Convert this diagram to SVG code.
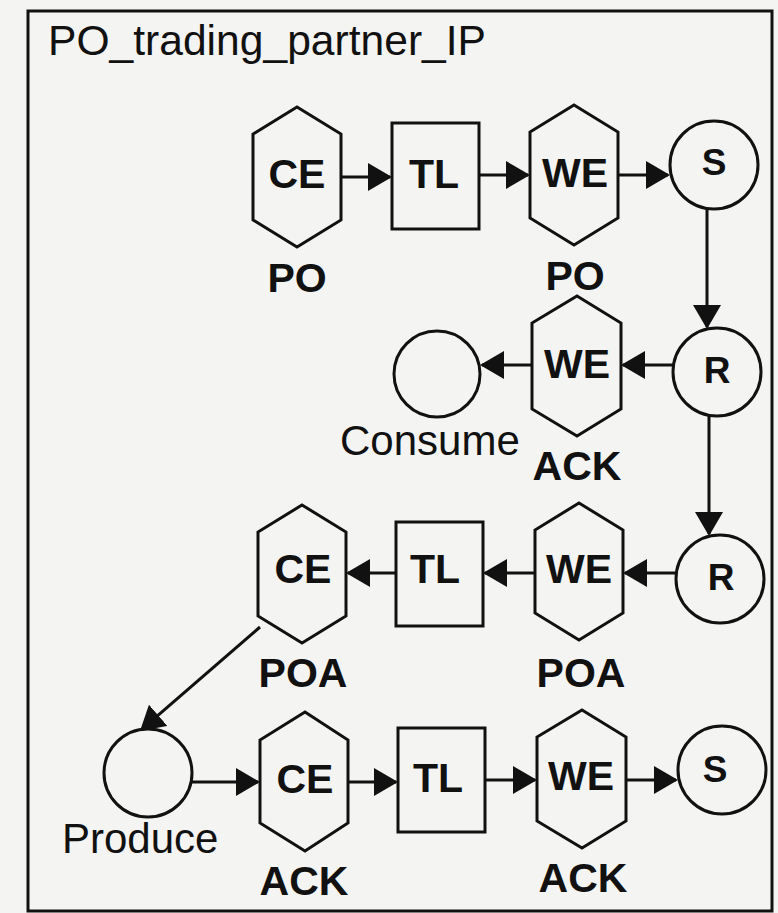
<svg xmlns="http://www.w3.org/2000/svg" width="778" height="913" viewBox="0 0 778 913">
<style>
.shape{fill:none;stroke:#111;stroke-width:3;stroke-linejoin:miter}
.conn{fill:none;stroke:#111;stroke-width:3}
.in{font-family:"Liberation Sans",Arial,sans-serif;font-weight:bold;font-size:41px;fill:#111;text-anchor:middle}
.cin{font-family:"Liberation Sans",Arial,sans-serif;font-weight:bold;font-size:37px;fill:#111;text-anchor:middle}
.lbl{font-family:"Liberation Sans",Arial,sans-serif;font-weight:bold;font-size:41px;fill:#111;text-anchor:middle}
.reg{font-family:"Liberation Sans",Arial,sans-serif;font-size:42px;fill:#111}
</style>
<defs>
<marker id="ah" viewBox="0 0 24 28" refX="22" refY="14" markerWidth="24" markerHeight="28" markerUnits="userSpaceOnUse" orient="auto">
<path d="M0,0 L24,14 L0,28 z" fill="#111"/>
</marker>
</defs>
<rect x="0" y="0" width="778" height="913" fill="#f4f4f2"/>
<g id="frame">
<rect class="shape" x="28" y="11" width="744" height="900"/>
<text class="reg" x="48" y="55" font-size="40" textLength="438" lengthAdjust="spacingAndGlyphs">PO_trading_partner_IP</text>
</g>
<g id="connectors">
<path class="conn" marker-end="url(#ah)" d="M341,177 H390"/>
<path class="conn" marker-end="url(#ah)" d="M479,175 H528"/>
<path class="conn" marker-end="url(#ah)" d="M618,175 H668"/>
<path class="conn" marker-end="url(#ah)" d="M707,208 V327"/>
<path class="conn" marker-end="url(#ah)" d="M673,365 H623"/>
<path class="conn" marker-end="url(#ah)" d="M532,365 H482"/>
<path class="conn" marker-end="url(#ah)" d="M709,415 V534"/>
<path class="conn" marker-end="url(#ah)" d="M676,573 H625"/>
<path class="conn" marker-end="url(#ah)" d="M535,573 H485"/>
<path class="conn" marker-end="url(#ah)" d="M396,573 H348"/>
<path class="conn" marker-end="url(#ah)" d="M260,627 L141.5,729.7"/>
<path class="conn" marker-end="url(#ah)" d="M192,782 H258"/>
<path class="conn" marker-end="url(#ah)" d="M348,782 H396"/>
<path class="conn" marker-end="url(#ah)" d="M485,780 H535"/>
<path class="conn" marker-end="url(#ah)" d="M626,780 H676"/>
</g>
<g id="ce_po">
<polygon class="shape" points="297,107 341,134 341,220 297,247 253,220 253,134"/>
<text class="in" x="297" y="188">CE</text>
<text class="lbl" x="297" y="292">PO</text>
</g>
<g id="tl_1">
<rect class="shape" x="392" y="123" width="87" height="106"/>
<text class="in" x="434" y="188">TL</text>
</g>
<g id="we_po">
<polygon class="shape" points="574,105 618,132 618,218 574,245 530,218 530,132"/>
<text class="in" x="575" y="187">WE</text>
<text class="lbl" x="575" y="290">PO</text>
</g>
<g id="s_1">
<circle class="shape" cx="714" cy="165" r="44"/>
<text class="cin" x="714" y="175">S</text>
</g>
<g id="r_1">
<circle class="shape" cx="717" cy="372" r="44"/>
<text class="cin" x="717" y="383">R</text>
</g>
<g id="we_ack_1">
<polygon class="shape" points="577,296 621,323 621,409 577,436 532,409 532,323"/>
<text class="in" x="577" y="378">WE</text>
<text class="lbl" x="577" y="480">ACK</text>
</g>
<g id="consume">
<circle class="shape" cx="437" cy="374" r="43"/>
<text class="reg" x="340" y="455">Consume</text>
</g>
<g id="r_2">
<circle class="shape" cx="720" cy="579" r="44"/>
<text class="cin" x="721" y="590">R</text>
</g>
<g id="we_poa">
<polygon class="shape" points="579,503 623,530 623,613 579,640 535,613 535,530"/>
<text class="in" x="579" y="583">WE</text>
<text class="lbl" x="581" y="687">POA</text>
</g>
<g id="tl_2">
<rect class="shape" x="396" y="522" width="87" height="104"/>
<text class="in" x="435" y="583">TL</text>
</g>
<g id="ce_poa">
<polygon class="shape" points="302,505 346,532 346,616 302,643 258,616 258,532"/>
<text class="in" x="303" y="583">CE</text>
<text class="lbl" x="303" y="687">POA</text>
</g>
<g id="produce">
<circle class="shape" cx="148" cy="773" r="44"/>
<text class="reg" x="62" y="853">Produce</text>
</g>
<g id="ce_ack">
<polygon class="shape" points="305,712 348,740 348,823 305,851 260,823 260,740"/>
<text class="in" x="305" y="793">CE</text>
<text class="lbl" x="304" y="895">ACK</text>
</g>
<g id="tl_3">
<rect class="shape" x="398" y="728" width="87" height="104"/>
<text class="in" x="438" y="792">TL</text>
</g>
<g id="we_ack_2">
<polygon class="shape" points="582,710 626,737 626,821 582,848 537,821 537,737"/>
<text class="in" x="581" y="790">WE</text>
<text class="lbl" x="583" y="892">ACK</text>
</g>
<g id="s_2">
<circle class="shape" cx="722" cy="770" r="44"/>
<text class="cin" x="715" y="782">S</text>
</g>
</svg>
